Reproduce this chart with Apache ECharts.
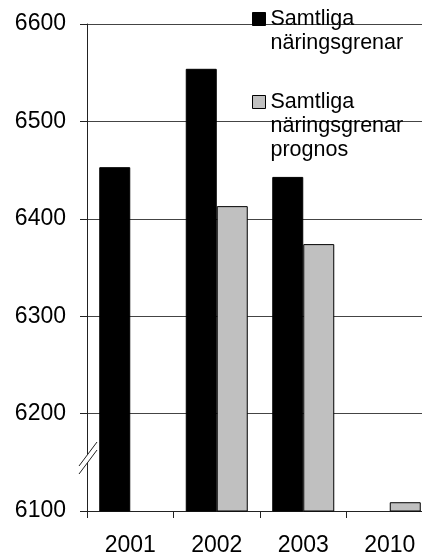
<!DOCTYPE html>
<html>
<head>
<meta charset="utf-8">
<script src="https://cdn.jsdelivr.net/npm/echarts@6/dist/echarts.min.js"></script>
<style>
html,body{margin:0;padding:0;background:#fff;}
#chart{width:422px;height:557px;}
</style>
</head>
<body>
<div id="chart"></div>
<script>
var categories = ['2001', '2002', '2003', '2010'];
var seriesNames = ['Samtliga näringsgrenar', 'Samtliga näringsgrenar prognos'];
var actualValues = [6453, 6554, 6443, null];
var forecastValues = [null, 6413, 6374, 6109];
var yTicks = [6100, 6200, 6300, 6400, 6500, 6600];

var chart = echarts.init(document.getElementById('chart'), null, {renderer: 'canvas'});
var font = 'Liberation Sans, Arial, sans-serif';

chart.setOption({
  animation: false,
  backgroundColor: '#fff',
  grid: {left: 87, width: 346, top: 24, bottom: 46, containLabel: false, outerBoundsMode: 'none'},
  legend: [
    {
      data: [seriesNames[0]],
      orient: 'vertical',
      left: 252, top: -17, padding: 0,
      itemWidth: 13, itemHeight: 13,
      icon: 'rect',
      itemStyle: {borderColor: '#000', borderWidth: 1},
      formatter: function (n) { return ' \nSamtliga\nnäringsgrenar'; },
      textStyle: {fontFamily: font, fontSize: 21.5, color: '#000', lineHeight: 24}
    },
    {
      data: [seriesNames[1]],
      orient: 'vertical',
      left: 252, top: 42, padding: 0,
      itemWidth: 13, itemHeight: 13,
      icon: 'rect',
      itemStyle: {borderColor: '#000', borderWidth: 1},
      formatter: function (n) { return ' \n \nSamtliga\nnäringsgrenar\nprognos'; },
      textStyle: {fontFamily: font, fontSize: 21.5, color: '#000', lineHeight: 24}
    }
  ],
  xAxis: {
    type: 'category',
    data: categories,
    axisLine: {show: true, lineStyle: {color: '#222', width: 1}},
    axisTick: {show: true, length: 7, lineStyle: {color: '#222'}},
    axisLabel: {fontFamily: font, fontSize: 23, color: '#000', margin: 23}
  },
  yAxis: {
    type: 'value',
    min: yTicks[0], max: yTicks[yTicks.length - 1], interval: 100,
    axisLine: {show: true, lineStyle: {color: '#222', width: 1}},
    axisTick: {show: true, length: 7, lineStyle: {color: '#222'}},
    splitLine: {show: true, lineStyle: {color: '#444', width: 1}},
    axisLabel: {fontFamily: font, fontSize: 23, color: '#000', margin: 21,
      formatter: function (v) { return String(v); }}
  },
  series: [
    {
      name: seriesNames[0], type: 'bar', data: actualValues,
      barWidth: 31, barGap: '0%',
      itemStyle: {color: '#000', borderColor: '#000', borderWidth: 1}
    },
    {
      name: seriesNames[1], type: 'bar', data: forecastValues,
      barWidth: 31, barGap: '0%',
      itemStyle: {color: '#c0c0c0', borderColor: '#000', borderWidth: 1}
    }
  ],
  graphic: [
    {
      type: 'polygon', z: 100, silent: true,
      shape: {points: [[79, 466], [97, 442], [97, 450], [79, 474]]},
      style: {fill: '#fff', stroke: null}
    },
    {type: 'line', z: 101, silent: true, shape: {x1: 79, y1: 466, x2: 97, y2: 442}, style: {stroke: '#222', lineWidth: 1}},
    {type: 'line', z: 101, silent: true, shape: {x1: 79, y1: 474, x2: 97, y2: 450}, style: {stroke: '#222', lineWidth: 1}}
  ]
});
</script>
</body>
</html>
